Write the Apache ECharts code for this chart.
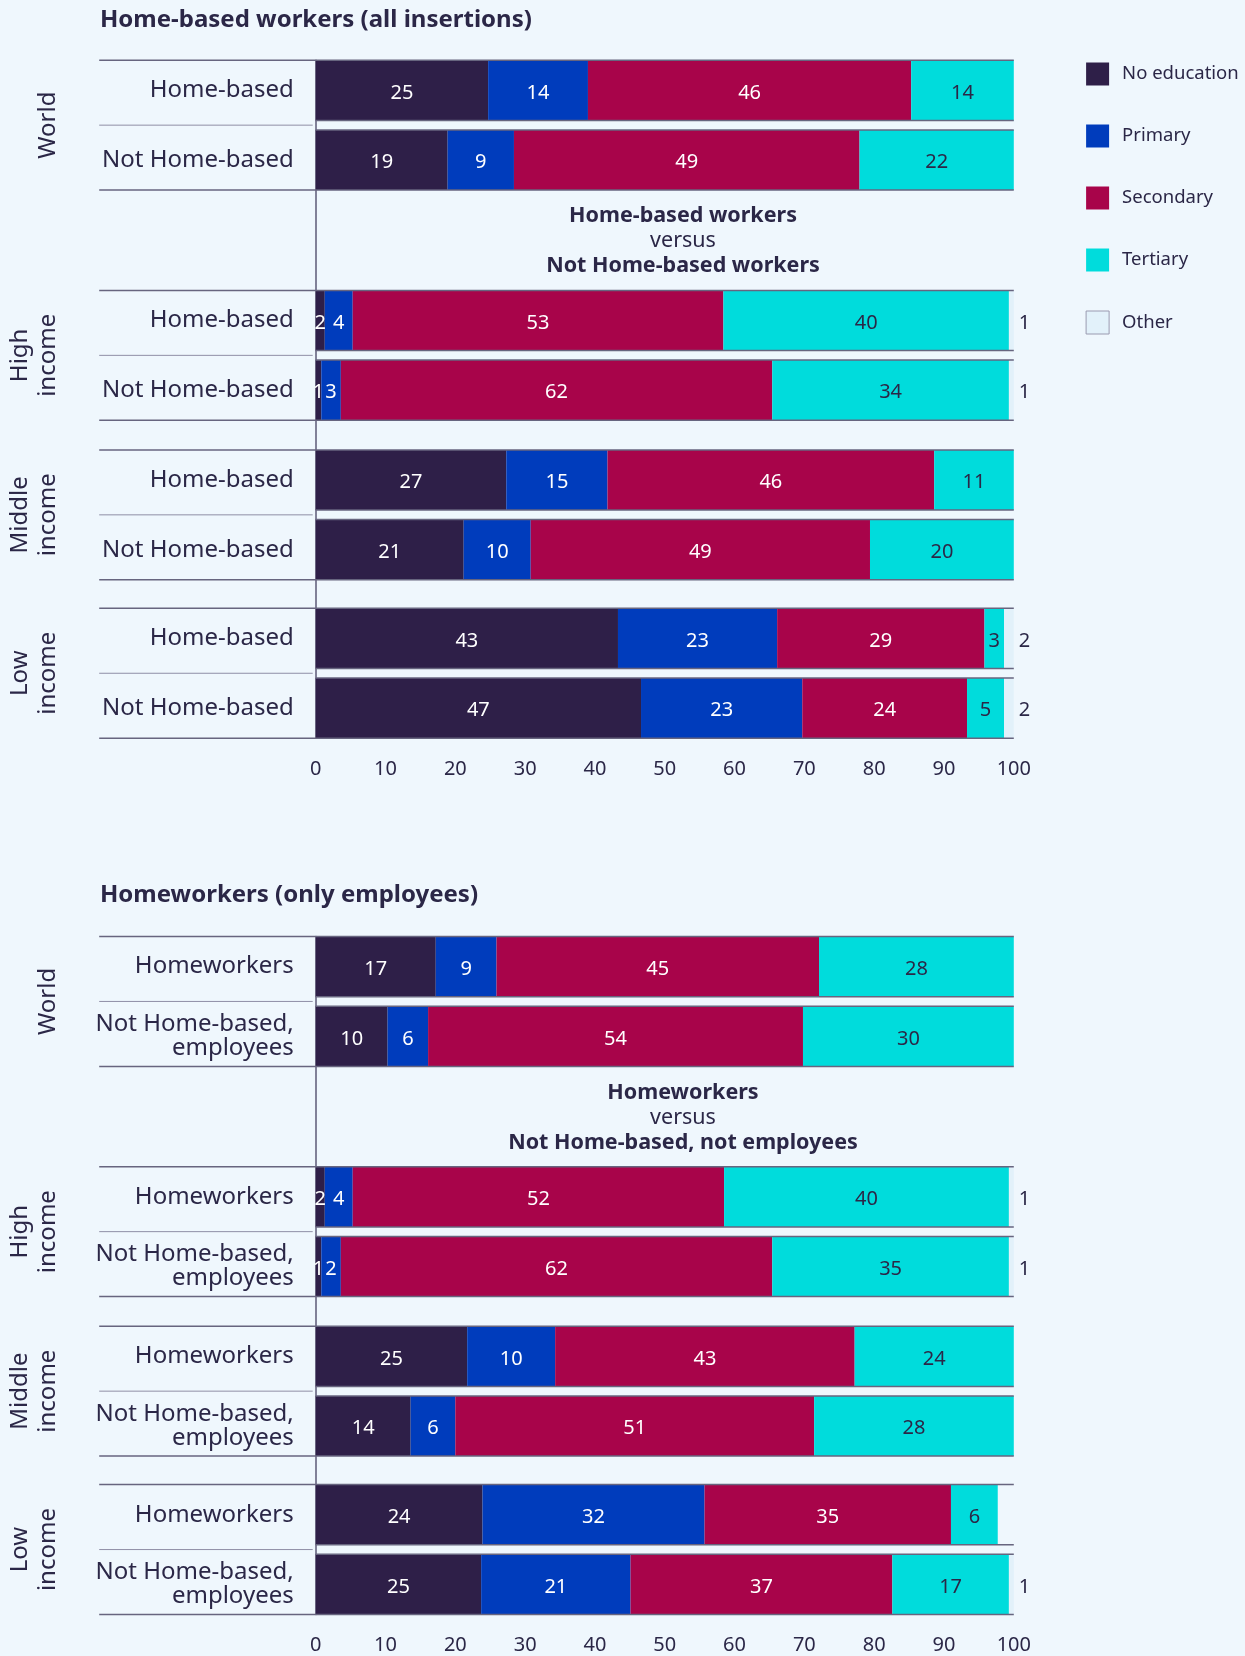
<!DOCTYPE html>
<html>
<head>
<meta charset="utf-8">
<title>Home-based workers by level of education</title>
<script src="https://cdn.jsdelivr.net/npm/echarts@6/dist/echarts.min.js"></script>
<style>
  html, body { margin: 0; padding: 0; background: #eff7fd; }
  #main { width: 1245px; height: 1656px; }
</style>
</head>
<body>
<div id="main"></div>
<script type="text/javascript">
// groups and rows (top to bottom)
var groups = ['World', 'High\nincome', 'Middle\nincome', 'Low\nincome'];
var rowsTop = ['Home-based', 'Not Home-based'];
var rowsBottom = ['Homeworkers', 'Not Home-based,\nemployees'];
var levels = ['No education', 'Primary', 'Secondary', 'Tertiary', 'Other'];

// bar lengths (%), row order: World x2, High x2, Middle x2, Low x2
var noEduTop     = [24.7, 18.9,  1.3,  0.8, 27.3, 21.2, 43.3, 46.6];
var primaryTop   = [14.3,  9.5,  4.0,  2.8, 14.5,  9.6, 22.8, 23.1];
var secondaryTop = [46.3, 49.5, 53.1, 61.8, 46.8, 48.6, 29.7, 23.6];
var tertiaryTop  = [14.7, 22.1, 40.9, 33.9, 11.4, 20.6,  2.8,  5.3];
var otherTop     = [   0,    0,  0.7,  0.7,    0,    0,  1.4,  1.4];

var noEduBottom     = [17.2, 10.3,  1.3,  0.8, 21.7, 13.6, 23.9, 23.7];
var primaryBottom   = [ 8.7,  5.8,  4.0,  2.8, 12.6,  6.4, 31.8, 21.4];
var secondaryBottom = [46.2, 53.7, 53.2, 61.8, 42.9, 51.4, 35.3, 37.5];
var tertiaryBottom  = [27.9, 30.2, 40.8, 33.9, 22.8, 28.6,  6.7, 16.7];
var otherBottom     = [   0,    0,  0.7,  0.7,    0,    0,    0,  0.7];

// printed value labels
var noEduTopLbl     = [25, 19,  2,  1, 27, 21, 43, 47];
var primaryTopLbl   = [14,  9,  4,  3, 15, 10, 23, 23];
var secondaryTopLbl = [46, 49, 53, 62, 46, 49, 29, 24];
var tertiaryTopLbl  = [14, 22, 40, 34, 11, 20,  3,  5];
var otherTopLbl     = [null, null, 1, 1, null, null, 2, 2];

var noEduBottomLbl     = [17, 10,  2,  1, 25, 14, 24, 25];
var primaryBottomLbl   = [ 9,  6,  4,  2, 10,  6, 32, 21];
var secondaryBottomLbl = [45, 54, 52, 62, 43, 51, 35, 37];
var tertiaryBottomLbl  = [28, 30, 40, 35, 24, 28,  6, 17];
var otherBottomLbl     = [null, null, 1, 1, null, null, null, 1];

var colors = ['#2e1f48', '#003cbc', '#a8044a', '#00dcdc', '#e2f1fa'];
var labelColors = ['#ffffff', '#ffffff', '#ffffff', '#2b2747', '#2b2747'];
var textColor = '#2b2747';
var font = 'Noto Sans';

var panels = [
  {
    rows: rowsTop, barTop: 60.2,
    values: [noEduTop, primaryTop, secondaryTop, tertiaryTop, otherTop],
    labels: [noEduTopLbl, primaryTopLbl, secondaryTopLbl, tertiaryTopLbl, otherTopLbl]
  },
  {
    rows: rowsBottom, barTop: 936.5,
    values: [noEduBottom, primaryBottom, secondaryBottom, tertiaryBottom, otherBottom],
    labels: [noEduBottomLbl, primaryBottomLbl, secondaryBottomLbl, tertiaryBottomLbl, otherBottomLbl]
  }
];

var groupOffset = [0, 230.2, 389.7, 548.1];
var barH = 60.2, band = 69.7;
var plotLeft = 315.7, plotRight = 231.2;
var labelSpan = 216.5;

function edgeLines(axisIdx) {
  return {
    type: 'custom',
    xAxisIndex: axisIdx,
    yAxisIndex: axisIdx,
    silent: true,
    z: 4,
    data: [[100, 0], [100, 1]],
    encode: { x: 0, y: 1 },
    renderItem: function (params, api) {
      var row = api.value(1);
      var a = api.coord([0, row]);
      var b = api.coord([100, row]);
      var half = barH / 2;
      var edge = { stroke: '#67657f', lineWidth: 1.5 };
      var yTop = a[1] - half, yBot = a[1] + half;
      var kids = [
        { type: 'line', shape: { x1: row === 0 ? a[0] - labelSpan : a[0], y1: yTop, x2: b[0], y2: yTop }, style: edge },
        { type: 'line', shape: { x1: row === 1 ? a[0] - labelSpan : a[0], y1: yBot, x2: b[0], y2: yBot }, style: edge }
      ];
      if (row === 0) {
        var ym = a[1] + api.size([0, 1])[1] / 2;
        kids.push({ type: 'line', shape: { x1: a[0] - labelSpan, y1: ym, x2: a[0] - 3, y2: ym },
          style: { stroke: '#8f8ea6', lineWidth: 1 } });
      }
      return { type: 'group', children: kids };
    }
  };
}

var grid = [], xAxis = [], yAxis = [], series = [];

panels.forEach(function (panel, p) {
  groups.forEach(function (gName, g) {
    var idx = grid.length;
    grid.push({
      left: plotLeft, right: plotRight,
      top: panel.barTop + groupOffset[g] - (band - barH) / 2,
      height: band * 2,
      outerBoundsMode: 'none'
    });
    xAxis.push({
      gridIndex: idx, type: 'value', min: 0, max: 100, interval: 10,
      axisLine: { show: false }, axisTick: { show: false }, splitLine: { show: false },
      axisLabel: { show: g === 3, margin: 16, fontSize: 20, color: textColor, fontFamily: font }
    });
    yAxis.push({
      gridIndex: idx, type: 'category', inverse: true, data: panel.rows,
      axisLine: { show: false }, axisTick: { show: false },
      axisLabel: { margin: 22, fontSize: 24, lineHeight: 24, padding: [4, 0, 0, 0],
        color: textColor, fontFamily: font },
      name: gName, nameLocation: 'middle', nameRotate: 90, nameGap: 254,
      nameTextStyle: { fontSize: 24, lineHeight: 28, color: textColor, fontFamily: font }
    });
    levels.forEach(function (lvl, s) {
      var vals = panel.values[s].slice(2 * g, 2 * g + 2);
      var lbls = panel.labels[s].slice(2 * g, 2 * g + 2);
      series.push({
        name: lvl, type: 'bar', stack: 'p' + p + 'g' + g,
        xAxisIndex: idx, yAxisIndex: idx, barWidth: barH,
        itemStyle: { color: colors[s] },
        label: {
          show: true,
          position: s === 4 ? 'right' : 'inside',
          distance: 5,
          offset: [0, 2.5],
          fontSize: 20, fontFamily: font, color: labelColors[s],
          formatter: function (d) { return d.data.lbl == null ? '' : String(d.data.lbl); }
        },
        data: vals.map(function (v, i) { return { value: v, lbl: lbls[i] }; })
      });
    });
    series.push(edgeLines(idx));
  });
});

// frame grids: continuous vertical axis line through each panel
panels.forEach(function (panel) {
  var idx = grid.length;
  grid.push({
    left: plotLeft, right: plotRight, top: panel.barTop,
    height: groupOffset[3] + band + barH,
    outerBoundsMode: 'none'
  });
  xAxis.push({ gridIndex: idx, type: 'value', min: 0, max: 100, show: false });
  yAxis.push({
    gridIndex: idx, type: 'value', min: 0, max: 1,
    axisLine: { show: true, lineStyle: { color: '#5c5a76', width: 1.5 } },
    axisTick: { show: false }, axisLabel: { show: false }, splitLine: { show: false }
  });
});

function versusBlock(y0, first, second) {
  var base = { textAlign: 'center', textVerticalAlign: 'middle', fill: textColor, fontFamily: font };
  return [
    { type: 'text', x: 683, y: y0, style: Object.assign({ text: first, fontSize: 21.5, fontWeight: 'bold' }, base) },
    { type: 'text', x: 683, y: y0 + 25, style: Object.assign({ text: 'versus', fontSize: 21.5 }, base) },
    { type: 'text', x: 683, y: y0 + 50, style: Object.assign({ text: second, fontSize: 21.5, fontWeight: 'bold' }, base) }
  ];
}

var myChart = echarts.init(document.getElementById('main'));
var option = {
  backgroundColor: '#eff7fd',
  animation: false,
  title: [
    { text: 'Home-based workers (all insertions)', left: 100, top: 8, padding: 0,
      textStyle: { fontSize: 24, fontWeight: 'bold', color: textColor, fontFamily: font } },
    { text: 'Homeworkers (only employees)', left: 100, top: 883, padding: 0,
      textStyle: { fontSize: 24, fontWeight: 'bold', color: textColor, fontFamily: font } }
  ],
  legend: {
    orient: 'vertical', left: 1085.6, top: 62.5, padding: 0,
    itemWidth: 23, itemHeight: 23, itemGap: 39, icon: 'rect',
    selectedMode: false,
    textStyle: { fontSize: 18.5, color: textColor, fontFamily: font, padding: [0, 0, 0, 8] },
    data: [
      { name: 'No education' }, { name: 'Primary' }, { name: 'Secondary' }, { name: 'Tertiary' },
      { name: 'Other', itemStyle: { borderColor: '#9a9ab0', borderWidth: 1 } }
    ]
  },
  graphic: versusBlock(216, 'Home-based workers', 'Not Home-based workers')
    .concat(versusBlock(1093, 'Homeworkers', 'Not Home-based, not employees')),
  grid: grid,
  xAxis: xAxis,
  yAxis: yAxis,
  series: series
};
myChart.setOption(option);
</script>
</body>
</html>
